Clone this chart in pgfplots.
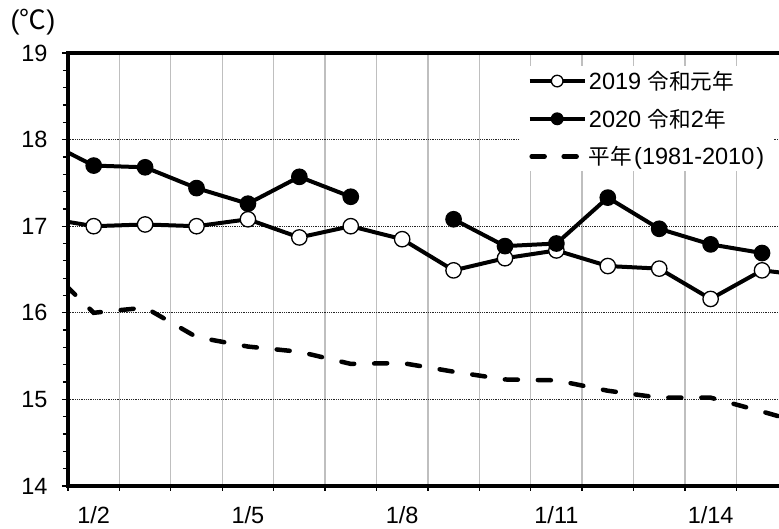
\documentclass[border=0pt]{standalone}
\usepackage{pgfplots}
\pgfplotsset{compat=1.18}
\usepackage{pgfplotstable}
\usepackage{fontspec}
\setmainfont{Liberation Sans}
\newfontfamily\cjk[Scale=0.92]{Noto Sans CJK JP}

% daily mean temperature, 1/1 .. 1/16 (1/1 and 1/16 fall outside the visible range)
\pgfplotstableread{
day y2019 y2020 normal
1  17.10 18.00 16.58
2  17.00 17.70 16.00
3  17.02 17.68 16.06
4  17.00 17.44 15.72
5  17.08 17.26 15.61
6  16.87 17.57 15.55
7  17.00 17.34 15.41
8  16.85 nan   15.42
9  16.49 17.08 15.32
10 16.63 16.77 15.23
11 16.72 16.80 15.22
12 16.54 17.33 15.10
13 16.51 16.97 15.02
14 16.16 16.79 15.02
15 16.49 16.69 14.86
16 16.42 nan   14.69
}\temps

\pgfplotsset{
  dot legend/.style={
    legend image code/.code={
      \path[draw=none, fill=none] (0pt,-8pt) rectangle (55pt,8pt);
      \draw[line width=4pt] (0pt,0pt) -- (55pt,0pt);
      \draw[line width=1.3pt, fill=#1] (27.5pt,0pt) circle[radius=5.8pt];
    }
  },
  dash legend/.style={
    legend image code/.code={
      \path[draw=none, fill=none] (0pt,-8pt) rectangle (55pt,8pt);
      \draw[line width=4.5pt, line cap=round, dash pattern=on 13pt off 19pt] (2pt,0pt) -- (55pt,0pt);
    }
  },
}

\begin{document}
\begin{tikzpicture}
\begin{axis}[
  at={(68pt,43pt)}, anchor=south west,
  scale only axis, width=711pt, height=433pt,
  xmin=1.5, xmax=15.33, ymin=14, ymax=19,
  axis x line*=box, axis y line*=left,
  axis line style={-, line width=3.5pt, line cap=rect},
  xtick={2,5,8,11,14},
  xticklabels={1/2,1/5,1/8,1/11,1/14},
  minor xtick={1.5,2.5,...,15.5},
  ytick={14,15,...,19},
  minor y tick num=4,
  tick align=outside,
  xtick pos=bottom, ytick pos=left,
  major tick length=6pt, minor tick length=5pt,
  tick style={line width=1.3pt, black},
  major x tick style={draw=none},
  xminorgrids=true, ymajorgrids=true,
  x grid style={color=black!25, line width=1.3pt, solid},
  minor grid style={color=black!25, line width=1.3pt, solid},
  y grid style={color=black!85, line width=0.9pt, dash pattern=on 0.9pt off 0.9pt},
  /pgf/number format/assume math mode=true,
  tick label style={font=\fontsize{23.5}{28}\selectfont},
  yticklabel style={xshift=-11pt},
  xticklabel style={yshift=-11pt},
  legend style={at={(0.635,0.97)}, anchor=north west, draw=none, fill=white,
    font=\fontsize{23.5}{28}\selectfont, row sep=14pt, inner xsep=8pt, inner ysep=3pt,
    nodes={inner xsep=2pt, inner ysep=2pt}},
  legend cell align=left,
]

\addplot[forget plot, line width=4.5pt, line cap=round, dash pattern=on 13pt off 20pt]
  table[x=day, y=normal] {\temps};
\addplot[forget plot, line width=4pt, line join=round, mark=*, mark size=7.7pt,
  mark options={solid, fill=white, line width=1.3pt}]
  table[x=day, y=y2019] {\temps};
\addplot[forget plot, line width=4pt, line join=round, unbounded coords=jump, mark=*, mark size=7.7pt,
  mark options={solid, fill=black, line width=1.3pt}]
  table[x=day, y=y2020] {\temps};

\addlegendimage{dot legend=white}
\addlegendentry{2019 {\cjk 令和元年}}
\addlegendimage{dot legend=black}
\addlegendentry{2020 {\cjk 令和}2{\cjk 年}}
\addlegendimage{dash legend}
\addlegendentry{{\cjk 平年}\hspace{2pt}(1981-2010\hspace{2pt})}
\end{axis}
\node[font=\fontsize{27}{30}\selectfont] at (33pt,507pt) {({\cjk\fontsize{29}{30}\selectfont ℃})};
\pgfresetboundingbox
\useasboundingbox (0,0) rectangle (779pt,529pt);
\end{tikzpicture}
\end{document}
